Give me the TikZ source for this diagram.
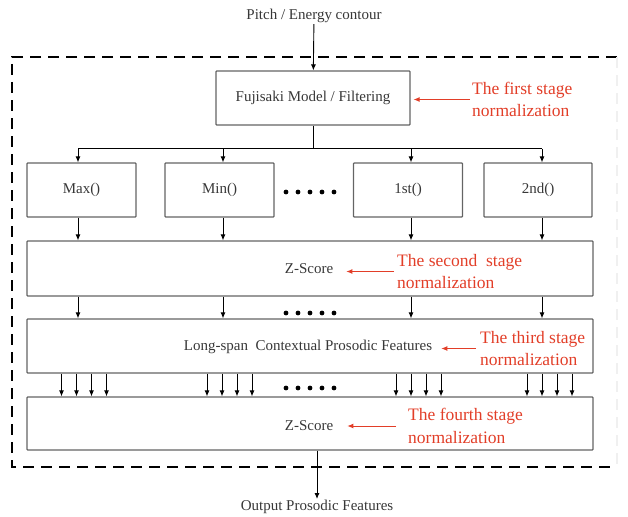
\documentclass[tikz,border=0pt]{standalone}
\usepackage{fontspec}
\setmainfont{Liberation Serif}
\usepackage{tikz}
\usetikzlibrary{arrows.meta,calc,positioning}
\definecolor{stagered}{RGB}{226,62,40}
\definecolor{boxgray}{RGB}{100,100,100}
\definecolor{txtgray}{RGB}{55,55,55}

\begin{document}
\begin{tikzpicture}[x=1pt,y=-1pt,
box/.style={draw=boxgray, line width=1.2pt, rounded corners=0.8pt, minimum height=54pt, inner sep=0pt},
lbl/.style={text=txtgray, font=\fontsize{15}{17}\selectfont, inner sep=1pt},
stage/.style={text=stagered, align=left, font=\fontsize{17.5}{22.5}\selectfont, inner sep=0pt, anchor=west},
flow/.style={-{Latex[length=6pt,width=5pt]}, line width=0.9pt},
redarrow/.style={-{Latex[length=6pt,width=5pt]}, draw=stagered, line width=0.9pt}]

    \useasboundingbox (0,0) rectangle (628,516);

    % outer dashed frame
    \draw[line width=1.5pt, dash pattern=on 11pt off 7pt] (617,57) -- (12,57) -- (12,467) -- (617,467);
    \draw[gray!12, line width=1.2pt, dash pattern=on 11pt off 7pt] (617,57) -- (617,467);

    \node[lbl] (input) at (314,16) {Pitch / Energy contour};
    \node[box, minimum width=194pt] (fuji) at (313,98) {};
    \node[lbl] (fujitxt) at (313,98) {Fujisaki Model / Filtering};

    \node[box, minimum width=109pt] (max) at (81.5,190) {};
    \node[box, minimum width=109pt] (min) at (219.5,190) {};
    \node[box, minimum width=109pt] (first) at (408,190) {};
    \node[box, minimum width=108pt] (second) at (538,190) {};
    \node[lbl] at (max) {Max()};
    \node[lbl] at (min) {Min()};
    \node[lbl] at (first) {1st()};
    \node[lbl] at (second) {2nd()};

    \node[box, minimum width=566pt, minimum height=55pt] (zs1) at (310,268.5) {};
    \node[lbl] (zs1txt) at (309,269) {Z-Score};
    \node[box, minimum width=566pt] (lcp) at (310,346) {};
    \node[lbl] (lcptxt) at (308,347) {Long-span\ \ Contextual Prosodic Features};
    \node[box, minimum width=566pt, minimum height=53pt] (zs2) at (310,423.5) {};
    \node[lbl] (zs2txt) at (309,426) {Z-Score};

    \node[lbl] (output) at (317,507) {Output Prosodic Features};

    % stage labels
    \node[stage] (st1) at (472,99.5) {The first stage\\normalization};
    \node[stage] (st2) at (397,271.5) {The second\ \ stage\\normalization};
    \node[stage] (st3) at (480,348.5) {The third stage\\normalization};
    \node[stage] (st4) at (408,426) {The fourth stage\\normalization};

    \draw[redarrow] ([xshift=-2pt]st1.west) -- ($(fuji.east |- st1.west)+(3,0)$);
    \draw[redarrow] ([xshift=-3pt]st2.west) -- ($(zs1txt.east |- st2.west)+(12,0)$);
    \draw[redarrow] ([xshift=-4pt]st3.west) -- ($(lcptxt.east |- st3.west)+(8,0)$);
    \draw[redarrow] ([xshift=-12pt]st4.west) -- ($(zs2txt.east |- st4.west)+(13,0)$);

    % main flow
    \draw[flow] (input) -- (fuji);
    \draw[line width=0.9pt] (fuji.south) -- ++(0,23) coordinate (split);
    \draw[line width=0.9pt] ($(max.north |- split)+(-3.5,0)$) -- ($(second.north |- split)+(4,0)$);
    \foreach \b/\ax/\gx in {max/-3.5/-20,min/3.5/-12.5,first/3/-12,second/4/-11}{
        \draw[flow] ($(\b.north |- split)+(\ax,0)$) -- ($(\b.north)+(\ax,0)$);
        \draw[flow] ($(\b.south)+(\ax,0)$) -- ($(\b.south |- zs1.north)+(\ax,0)$);
        \draw[flow] ($(\b.south |- zs1.south)+(\ax,0)$) -- ($(\b.south |- lcp.north)+(\ax,0)$);
        \foreach \k in {0,...,3}
            \draw[flow] ($(\b.south |- lcp.south)+(\gx+15*\k,0)$) -- ($(\b.south |- zs2.north)+(\gx+15*\k,0)$);
    }
    \draw[flow] (zs2.south -| output) -- (output.north);

    % ellipsis dots
    \foreach \y in {192,313,388}
        \foreach \i in {0,...,4}
            \fill (286+\i*12,\y) circle (2.4pt);
\end{tikzpicture}
\end{document}
